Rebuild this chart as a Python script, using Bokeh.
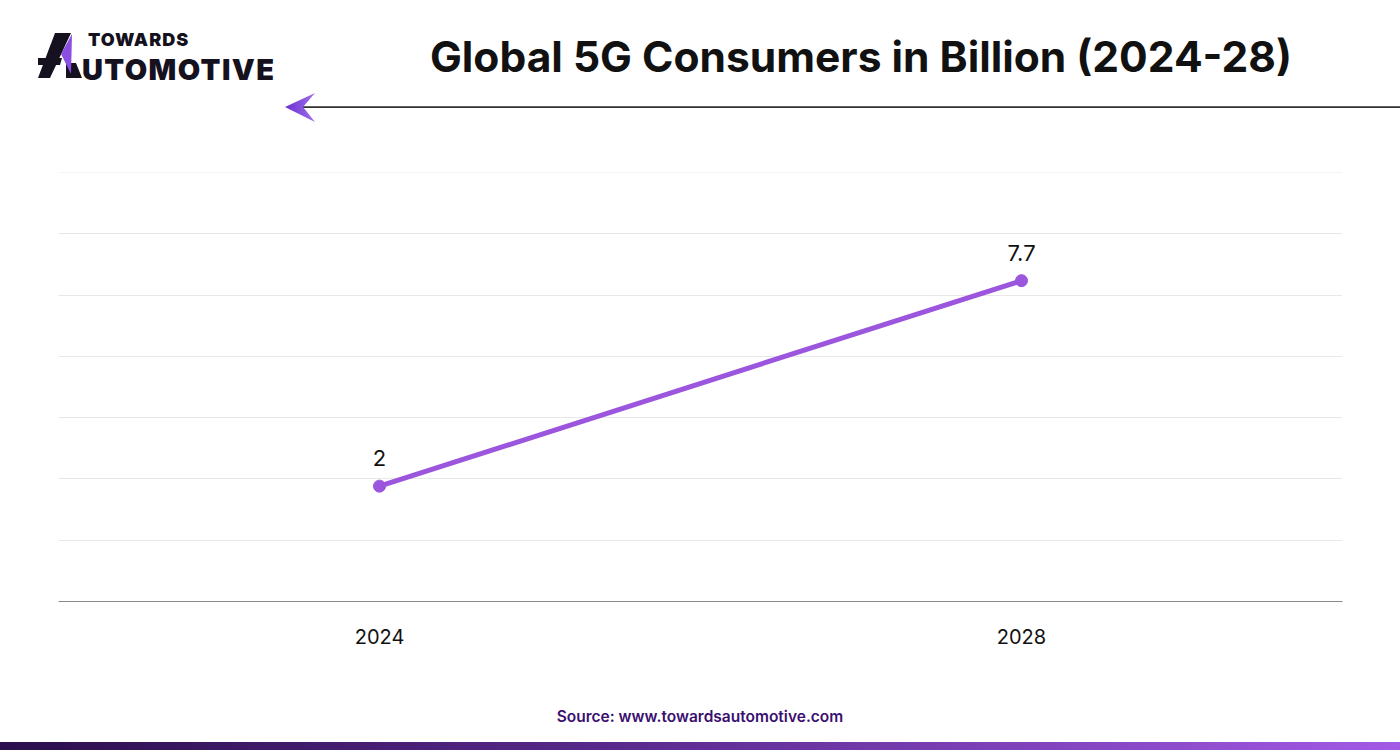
from bokeh.plotting import figure
from bokeh.models import ColumnDataSource, FixedTicker, Range1d, LabelSet, Div
from bokeh.layouts import column
from bokeh.core.properties import value
from bokeh.embed import file_html
from bokeh.resources import INLINE

# ---- data ----
years = ["2024", "2028"]
consumers = [2.0, 7.7]
value_labels = ["2", "7.7"]
title_text = "Global 5G Consumers in Billion (2024-28)"
source_text = "Source: www.towardsautomotive.com"
logo_top = "TOWARDS"
logo_bottom = "UTOMOTIVE"

W = 1400
TOP_H, FIG_H, BOT_H = 130, 560, 60
FONT = "Inter"
PURPLE = "#9b56dd"

# ---- header (logo, title, arrow) ----
header_html = f"""
<div style="position:relative;width:{W}px;height:{TOP_H}px;font-family:'{FONT}',sans-serif;">
  <svg width="{W}" height="{TOP_H}" style="position:absolute;left:0;top:0;">
    <defs>
      <linearGradient id="ag" x1="0" y1="0" x2="1" y2="0">
        <stop offset="0" stop-color="#6a2fd0"/><stop offset="1" stop-color="#a070ea"/>
      </linearGradient>
    </defs>
    <polygon points="55,33 71,33 50,78 38,78" fill="#15111e"/>
    <polygon points="38,58 62,58 60,65 38,65" fill="#15111e"/>
    <polygon points="66,63 76,63 82,78 66,78" fill="#15111e"/>
    <polygon points="72,34 61,54 71,74" fill="#8a4fe0"/>
    <rect x="300" y="106.3" width="{W - 300}" height="1.6" fill="#1e1e1e"/>
    <polygon points="285,107 315,93 303,107 315,122" fill="url(#ag)"/>
  </svg>
  <div style="position:absolute;left:88px;top:30.5px;font-size:18px;line-height:18px;
              font-weight:900;letter-spacing:1px;color:#15111e;">{logo_top}</div>
  <div style="position:absolute;left:82px;top:55px;font-size:29px;line-height:29px;
              font-weight:900;letter-spacing:1.4px;color:#15111e;">{logo_bottom}</div>
  <div style="position:absolute;left:861px;top:34px;transform:translateX(-50%);
              white-space:nowrap;font-size:42.5px;line-height:46px;font-weight:700;
              color:#111111;">{title_text}</div>
</div>
"""
header = Div(text=header_html, width=W, height=TOP_H, margin=(0, 0, 0, 0))

# ---- chart ----
p = figure(width=W, height=FIG_H, x_range=years, y_range=Range1d(-1.2, 10.7),
           output_backend="svg", toolbar_location=None,
           min_border_left=58, min_border_right=58,
           min_border_top=42, min_border_bottom=89, margin=(0, 0, 0, 0))
p.outline_line_color = None
p.background_fill_color = "white"
p.border_fill_color = "white"

p.yaxis.visible = False
p.yaxis.ticker = FixedTicker(ticks=[-1.2 + 1.7 * k for k in range(8)])
p.xgrid.grid_line_color = None
p.ygrid.grid_line_color = "#e8e8e8"
p.ygrid.grid_line_width = 1
p.xaxis.axis_line_color = "#8a8a8a"
p.xaxis.axis_line_width = 1
p.xaxis.major_tick_line_color = None
p.xaxis.minor_tick_line_color = None
p.xaxis.major_label_text_font = FONT
p.xaxis.major_label_text_font_size = "20px"
p.xaxis.major_label_text_color = "#111111"
p.xaxis.major_label_standoff = 21

src = ColumnDataSource(dict(x=years, y=consumers, lab=value_labels))
p.line("x", "y", source=src, line_color=PURPLE, line_width=5)
p.scatter("x", "y", source=src, size=12, fill_color=PURPLE, line_color=PURPLE)
p.add_layout(LabelSet(x="x", y="y", text="lab", source=src, y_offset=28,
                      text_align="center", text_baseline="middle",
                      text_font=value(FONT), text_font_size="22px",
                      text_color="#111111"))

# ---- footer (source + gradient bar) ----
footer_html = f"""
<div style="position:relative;width:{W}px;height:{BOT_H}px;font-family:'{FONT}',sans-serif;">
  <div style="position:absolute;left:0;width:{W}px;top:18px;text-align:center;
              font-size:15.5px;line-height:18px;font-weight:600;color:#3b0f70;">{source_text}</div>
  <div style="position:absolute;left:0;top:52px;width:{W}px;height:8px;
              background:linear-gradient(to right,#2a0e4c,#5a2a8e 45%,#a35ae6);"></div>
</div>
"""
footer = Div(text=footer_html, width=W, height=BOT_H, margin=(0, 0, 0, 0))

layout = column(header, p, footer, spacing=0, margin=(0, 0, 0, 0))
open("out.html", "w").write(file_html(layout, INLINE))
